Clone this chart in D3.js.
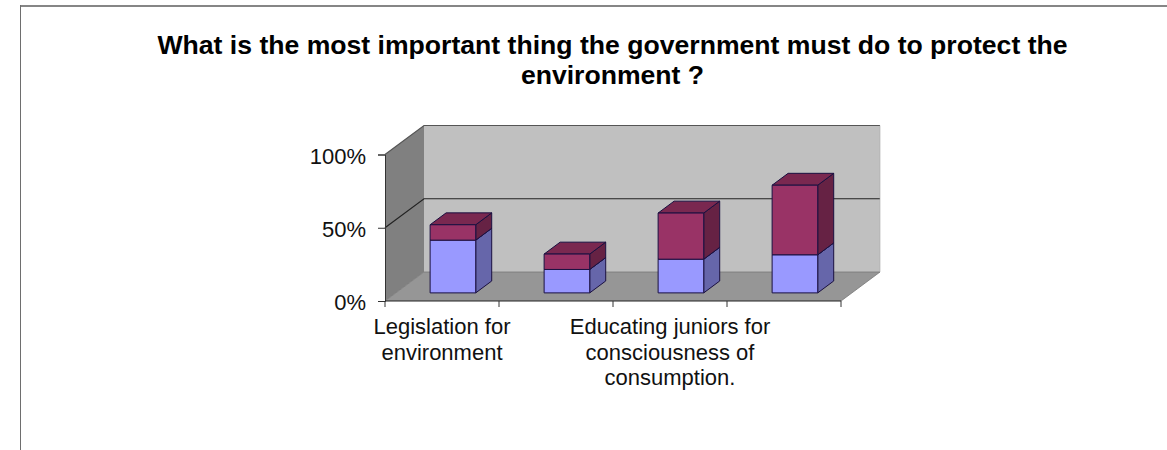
<!DOCTYPE html>
<html>
<head>
<meta charset="utf-8">
<script src="https://cdn.jsdelivr.net/npm/d3@7"></script>
<style>
  html, body { margin: 0; padding: 0; background: #fff; }
  svg { display: block; font-family: "Liberation Sans", Arial, sans-serif; }
</style>
</head>
<body>
<svg id="chart" width="1167" height="450"></svg>
<script>
// values, percent
const categories = ["cat1", "cat2", "cat3", "cat4"];
const lowerValues = [36, 16, 23, 26];
const upperValues = [10.5, 10.5, 31.5, 47.5];
const yTicks = [0, 50, 100];
const xLabels = [
    ["Legislation for", "environment"],
    [],
    ["Educating juniors for", "consciousness of", "consumption."],
    []
];
const titleLines = [
    "What is the most important thing the government must do to protect the",
    "environment ?"
];

const svg = d3.select("#chart");

// front plane of the 3d box + the depth shift to the back wall
const x = d3.scaleBand().domain(categories).range([385, 841]).paddingInner(0).paddingOuter(0);
const y = d3.scaleLinear().domain([0, 100]).range([301, 154.5]);
const depth = d3.scaleLinear().domain([0, 1]).range([0, 39]);
const rise = d3.scaleLinear().domain([0, 1]).range([0, 29]);

const px = (xv, d) => xv + depth(d);
const py = (v, d) => y(v) - rise(d);
const poly = pts => pts.map(p => p.join(",")).join(" ");

// outer frame, only top and left show
svg.append("line")
    .attr("x1", 20).attr("x2", 1167).attr("y1", 6).attr("y2", 6)
    .attr("stroke", "#868686")
    .attr("stroke-width", 2);
svg.append("line")
    .attr("x1", 20.5).attr("x2", 20.5).attr("y1", 5).attr("y2", 450)
    .attr("stroke", "#6e6e6e")
    .attr("stroke-width", 1);

svg.append("g").selectAll("text")
    .data(titleLines)
    .join("text")
    .attr("x", 612.5)
    .attr("y", (d, i) => 54 + i * 29.5)
    .attr("text-anchor", "middle")
    .attr("font-size", 26.6)
    .attr("font-weight", "bold")
    .attr("fill", "#000")
    .text(d => d);

const x0 = x.range()[0], x1 = x.range()[1];

// walls and floor
svg.append("polygon")
    .attr("points", poly([[px(x0, 0), py(0, 0)], [px(x0, 1), py(0, 1)], [px(x0, 1), py(100, 1)], [px(x0, 0), py(100, 0)]]))
    .attr("fill", "#808080");
svg.append("polygon")
    .attr("points", poly([[px(x0, 1), py(0, 1)], [px(x1, 1), py(0, 1)], [px(x1, 1), py(100, 1)], [px(x0, 1), py(100, 1)]]))
    .attr("fill", "#c0c0c0");
svg.append("polygon")
    .attr("points", poly([[px(x0, 0), py(0, 0)], [px(x1, 0), py(0, 0)], [px(x1, 1), py(0, 1)], [px(x0, 1), py(0, 1)]]))
    .attr("fill", "#969696");

// gridlines on side + back wall
yTicks.forEach(t => {
    if (t === 0) return;
    svg.append("polyline")
        .attr("points", poly([[px(x0, 0), py(t, 0)], [px(x0, 1), py(t, 1)], [px(x1, 1), py(t, 1)]]))
        .attr("fill", "none")
        .attr("stroke", t === 100 ? "#555" : "#222")
        .attr("stroke-width", 1.2);
});
// box edges
svg.append("polyline")
    .attr("points", poly([[px(x0, 0), py(0, 0)], [px(x0, 1), py(0, 1)], [px(x1, 1), py(0, 1)], [px(x1, 0), py(0, 0)]]))
    .attr("fill", "none")
    .attr("stroke", "#777")
    .attr("stroke-width", 0.8);
svg.append("line")
    .attr("x1", px(x1, 1)).attr("x2", px(x1, 1))
    .attr("y1", py(0, 1)).attr("y2", py(100, 1))
    .attr("stroke", "#aaa").attr("stroke-width", 0.6);

// bars: front sits at 0.28 and back at 0.69 of the depth
const dFront = 0.28, dBack = 0.69;
const barW = x.bandwidth() * 0.4;

function drawBox(g, left, v0, v1, cFront, cTop, cSide) {
    const right = left + barW;
    g.append("polygon")
        .attr("points", poly([[px(right, dFront), py(v0, dFront)], [px(right, dBack), py(v0, dBack)], [px(right, dBack), py(v1, dBack)], [px(right, dFront), py(v1, dFront)]]))
        .attr("fill", cSide);
    g.append("polygon")
        .attr("points", poly([[px(left, dFront), py(v1, dFront)], [px(right, dFront), py(v1, dFront)], [px(right, dBack), py(v1, dBack)], [px(left, dBack), py(v1, dBack)]]))
        .attr("fill", cTop);
    g.append("polygon")
        .attr("points", poly([[px(left, dFront), py(v0, dFront)], [px(right, dFront), py(v0, dFront)], [px(right, dFront), py(v1, dFront)], [px(left, dFront), py(v1, dFront)]]))
        .attr("fill", cFront);
}

const bars = svg.append("g")
    .attr("stroke", "#1a1040")
    .attr("stroke-width", 1)
    .attr("stroke-linejoin", "round");

categories.forEach((c, i) => {
    const left = x(c) + (x.bandwidth() - barW) / 2;
    drawBox(bars, left, 0, lowerValues[i], "#9999ff", "#7a7ac8", "#6666aa");
    drawBox(bars, left, lowerValues[i], lowerValues[i] + upperValues[i], "#993366", "#7a2850", "#662244");
});

// y axis
const yAxis = svg.append("g")
    .attr("transform", `translate(${x0},0)`)
    .call(d3.axisLeft(y).tickValues(yTicks).tickFormat(d => d + "%").tickSize(7).tickPadding(12));
yAxis.select(".domain").attr("stroke", "#333");
yAxis.selectAll(".tick line").attr("stroke", "#333");
yAxis.selectAll("text")
    .attr("font-size", 22)
    .attr("font-family", "inherit")
    .attr("fill", "#111")
    .attr("dy", "0.4em");

// x axis, ticks between the categories
const xEdges = d3.range(categories.length + 1).map(i => x0 + i * x.step());
const xAxisG = svg.append("g").attr("transform", `translate(0,${y(0)})`);
xAxisG.append("line")
    .attr("x1", x0).attr("x2", x1)
    .attr("stroke", "#222").attr("stroke-width", 1.2);
xAxisG.selectAll("line.edge")
    .data(xEdges)
    .join("line")
    .attr("class", "edge")
    .attr("x1", d => d).attr("x2", d => d)
    .attr("y1", 0).attr("y2", 6)
    .attr("stroke", "#333");

const labels = svg.append("g").selectAll("text")
    .data(categories)
    .join("text")
    .attr("text-anchor", "middle")
    .attr("font-size", 22)
    .attr("fill", "#111");
labels.each(function(c, i) {
    d3.select(this).selectAll("tspan")
        .data(xLabels[i])
        .join("tspan")
        .attr("x", x(c) + x.bandwidth() / 2)
        .attr("y", (d, j) => 334 + j * 25.5)
        .text(d => d);
});
</script>
</body>
</html>
